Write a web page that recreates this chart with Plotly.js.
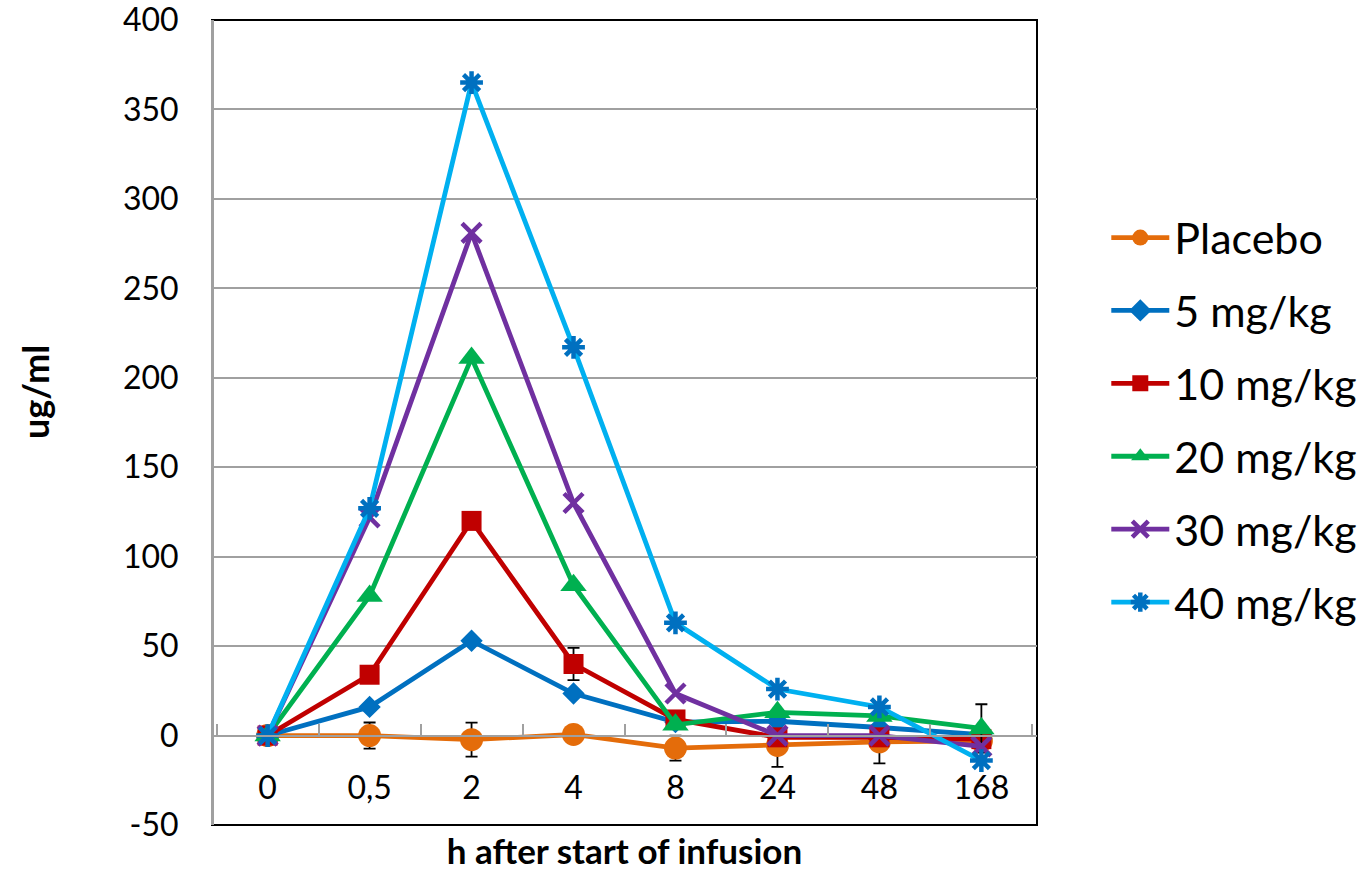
<!DOCTYPE html>
<html>
<head>
<meta charset="utf-8">
<script src="https://cdn.plot.ly/plotly-3.0.1.min.js"></script>
<style>html,body{margin:0;padding:0;background:#fff;}#chart{width:1360px;height:871px;}</style>
</head>
<body>
<div id="chart"></div>
<script>
const categories = ["0", "0,5", "2", "4", "8", "24", "48", "168"];
const seriesNames = ["Placebo", "5 mg/kg", "10 mg/kg", "20 mg/kg", "30 mg/kg", "40 mg/kg"];
const placebo = [0, 0, -2.3, 0.6, -7, -5.5, -3.5, -3];
const mg5 = [0, 16, 53, 23.5, 7.5, 8, 4.5, 0.5];
const mg10 = [0, 34, 120, 40, 9, -1, -1, -2];
const mg20 = [0, 78, 211, 84, 6, 13, 11, 4];
const mg30 = [0, 122, 281, 130, 23.5, 0, 0, -6];
const mg40 = [0, 127, 365, 217, 63, 26, 16, -14];
const placeboErr = [null, 7.3, 9.5, null, 7, 12, 12, null];
const mg10Err = [null, null, null, 9, null, null, null, null];
const mg20Err = [null, null, null, null, null, null, null, 13.5];
const yTickVals = [-50, 0, 50, 100, 150, 200, 250, 300, 350, 400];
const yTickText = ["-50", "0", "50", "100", "150", "200", "250", "300", "350", "400"];
const xTitle = "h after start of infusion";
const yTitle = "ug/ml";

const FONT = "Lato, 'Open Sans', sans-serif";
const errStyle = (arr) => ({type: "data", array: arr, symmetric: true, visible: true, color: "#000", thickness: 1.8, width: 6});

const styles = [
  {line: "#E46C0A", marker: {symbol: "circle", size: 23, color: "#E46C0A"}},
  {line: "#0070C0", marker: {symbol: "diamond", size: 15, color: "#0070C0", line: {color: "#0070C0", width: 2}}},
  {line: "#C00000", marker: {symbol: "square", size: 20, color: "#C00000"}},
  {line: "#00B050", marker: {symbol: "triangle-up", size: 23, color: "#00B050"}},
  {line: "#7030A0", marker: {symbol: "x-thin-open", size: 19, color: "#7030A0", line: {color: "#7030A0", width: 4.5}}},
  {line: "#00B0F0", marker: {symbol: "asterisk-open", size: 19, color: "#0070C0", line: {color: "#0070C0", width: 4.5}}}
];
const values = [placebo, mg5, mg10, mg20, mg30, mg40];
const errors = [placeboErr, null, mg10Err, mg20Err, null, null];

const traces = values.map((v, i) => {
  const t = {
    type: "scatter", mode: "lines+markers",
    x: categories, y: v, name: seriesNames[i],
    legendgroup: "g" + i,
    line: {color: styles[i].line, width: 4.8},
    marker: styles[i].marker,
    cliponaxis: false
  };
  if (errors[i]) t.error_y = errStyle(errors[i]);
  return t;
});

const layout = {
  width: 1360, height: 871,
  margin: {l: 212, r: 323, t: 20, b: 46, autoexpand: false},
  paper_bgcolor: "#fff", plot_bgcolor: "#fff",
  font: {family: FONT, color: "#000", size: 32},
  showlegend: true,
  legend: {
    x: 1.084, xanchor: "left", y: 0.503, yanchor: "middle",
    font: {family: FONT, size: 43, color: "#000"},
    itemwidth: 58, tracegroupgap: 14, bgcolor: "rgba(0,0,0,0)"
  },
  xaxis: {
    type: "category", anchor: "free", position: 50 / 450,
    showgrid: false, zeroline: false,
    showline: true, linecolor: "#A0A0A0", linewidth: 2,
    ticks: "inside", ticklen: 11, tickwidth: 2, tickcolor: "#A0A0A0",
    tickson: "boundaries",
    ticklabelstandoff: 24, ticklabeloverflow: "allow",
    tickfont: {family: FONT, size: 32, color: "#000"},
    title: {text: "<b>" + xTitle + "</b>", font: {family: FONT, size: 35, color: "#000"}, standoff: 36},
    automargin: false,
    fixedrange: true
  },
  yaxis: {
    range: [-50, 400], anchor: "free", position: 0,
    tickvals: yTickVals, ticktext: yTickText,
    showgrid: true, gridcolor: "#A0A0A0", gridwidth: 2,
    zeroline: false,
    showline: true, linecolor: "#A0A0A0", linewidth: 3,
    ticks: "", ticklabelstandoff: 26, ticklabeloverflow: "allow",
    tickfont: {family: FONT, size: 32, color: "#000"},
    automargin: false,
    fixedrange: true
  },
  annotations: [{
    text: "<b>" + yTitle + "</b>", xref: "paper", yref: "paper",
    x: -177 / 825, y: (825 - 392) / 805, xanchor: "center", yanchor: "middle",
    textangle: -90, showarrow: false,
    font: {family: FONT, size: 36, color: "#000"}
  }],
  shapes: [{
    type: "rect", xref: "paper", yref: "paper", x0: 0, x1: 1, y0: 0, y1: 1,
    line: {color: "#000", width: 2}, layer: "below"
  }]
};

Plotly.newPlot("chart", traces, layout, {displayModeBar: false, staticPlot: true});
</script>
</body>
</html>
